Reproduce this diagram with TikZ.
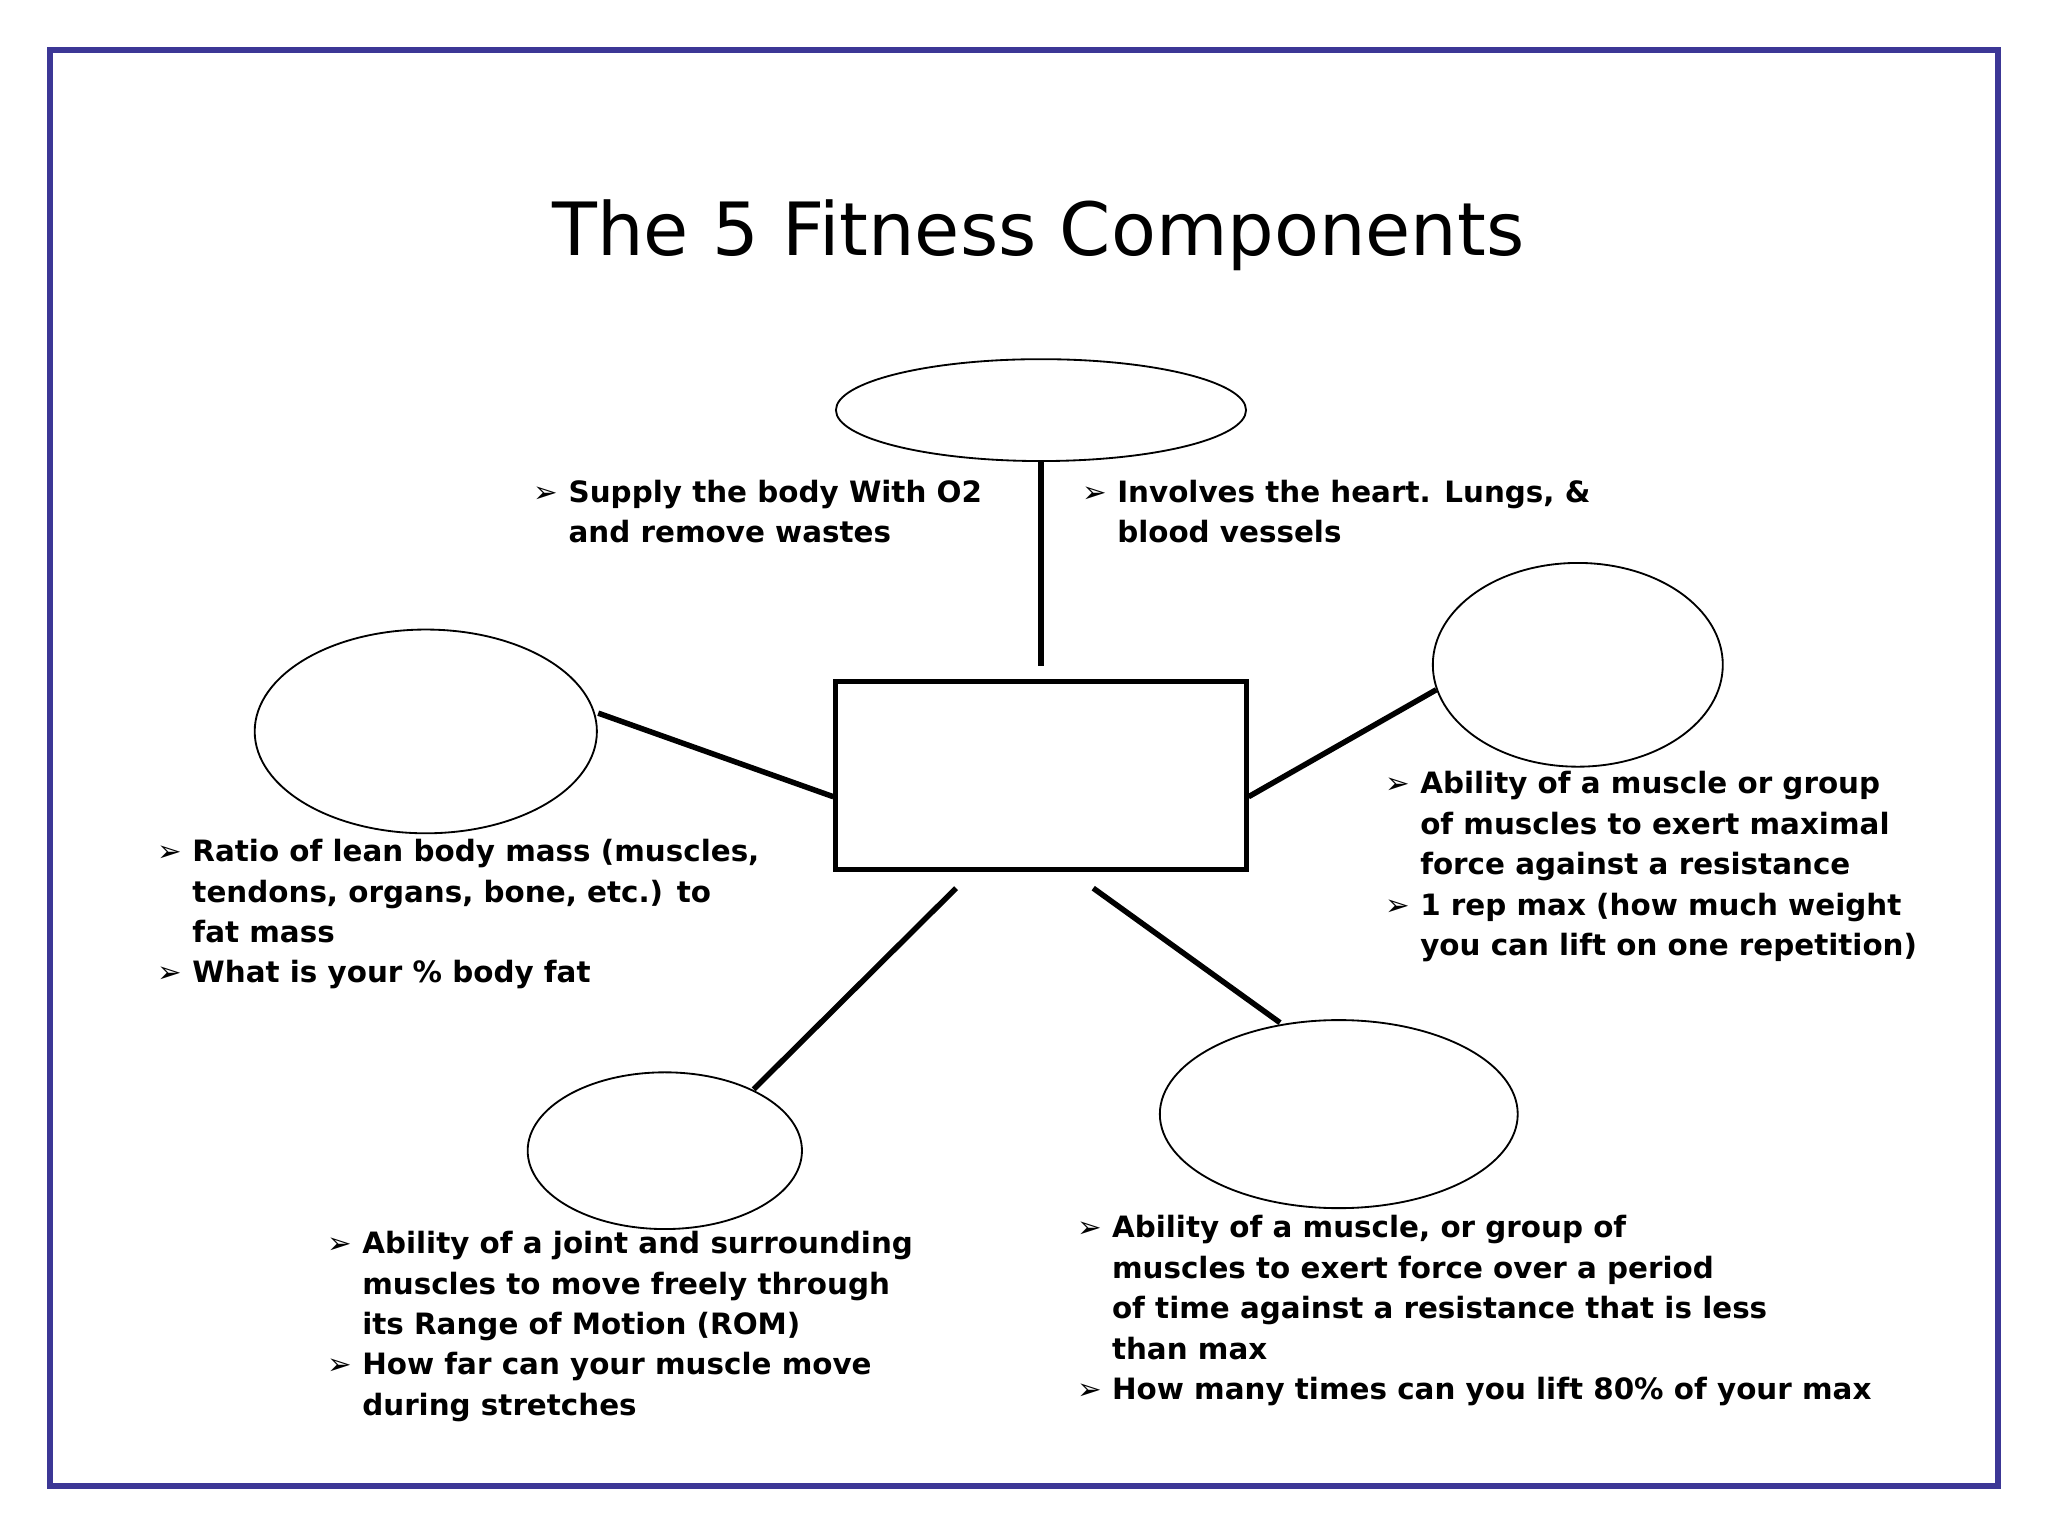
\documentclass[tikz,border=0pt]{standalone}
\usepackage{fontspec}
\setmainfont{DejaVu Sans}
\newfontfamily\arrowfont{DejaVu Sans}
\usetikzlibrary{shapes.geometric}
\definecolor{framecol}{RGB}{60,55,150}
\newcommand\bl{{\arrowfont\mdseries ➢}\ }
\newcommand\ind{\phantom{\bl}}
\tikzset{
  bubble/.style={ellipse, draw, thin, inner sep=0pt},
  spoke/.style={line width=1.2pt},
  note/.style={anchor=north west, inner sep=0pt, align=left,
    font=\fontsize{6.4pt}{8.8pt}\selectfont\bfseries}
}
\begin{document}
\begin{tikzpicture}
  \useasboundingbox (0,0) rectangle (15.68,-11.76);
  \draw[framecol, line width=1.3pt] (0.38,-0.38) rectangle (15.30,-11.38);

  \node[font=\fontsize{16pt}{19pt}\selectfont] (title) at (7.95,-1.8) {The 5 Fitness Components};

  % centre box and the five bubbles
  \node[draw, line width=1.1pt, minimum width=3.14cm, minimum height=1.44cm] (hub) at (7.97,-5.94) {};
  \node[bubble, minimum width=3.14cm, minimum height=0.78cm] (cardio) at (7.97,-3.14) {};
  \node[bubble, minimum width=2.62cm, minimum height=1.56cm] (body) at (3.26,-5.60) {};
  \node[bubble, minimum width=2.22cm, minimum height=1.56cm] (strength) at (12.08,-5.09) {};
  \node[bubble, minimum width=2.10cm, minimum height=1.20cm] (flex) at (5.09,-8.81) {};
  \node[bubble, minimum width=2.74cm, minimum height=1.44cm] (endur) at (10.25,-8.53) {};

  \coordinate (c1) at (7.97,-5.10);
  \coordinate (c2) at (7.32,-6.80);
  \coordinate (c3) at (8.37,-6.80);
  \coordinate (b1) at (4.58,-5.46);
  \coordinate (b2) at (9.80,-7.83);
  \coordinate (b3) at (5.77,-8.34);
  \draw[spoke] (cardio.south) -- (c1);
  \draw[spoke] (b1) -- (hub.west|-0,-6.10);
  \draw[spoke] (hub.east|-0,-6.10) -- (strength.190);
  \draw[spoke] (c2) -- (b3);
  \draw[spoke] (c3) -- (b2);

  % notes
  \node[note] (n1) at (4.08,-3.67) {\bl Supply the body With O2\\\ind and remove wastes};
  \node[note] (n2) at (8.28,-3.67) {\bl Involves the heart. Lungs, \&\\\ind blood vessels};
  \node[note] (n3) at (1.20,-6.42) {\bl Ratio of lean body mass (muscles,\\\ind tendons, organs, bone, etc.) to\\\ind fat mass\\\bl What is your \% body fat};
  \node[note] (n4) at (10.60,-5.90) {\bl Ability of a muscle or group\\\ind of muscles to exert maximal\\\ind force against a resistance\\\bl 1 rep max (how much weight\\\ind you can lift on one repetition)};
  \node[note] (n5) at (2.50,-9.42) {\bl Ability of a joint and surrounding\\\ind muscles to move freely through\\\ind its Range of Motion (ROM)\\\bl How far can your muscle move\\\ind during stretches};
  \node[note] (n6) at (8.24,-9.30) {\bl Ability of a muscle, or group of\\\ind muscles to exert force over a period\\\ind of time against a resistance that is less\\\ind than max\\\bl How many times can you lift 80\% of your max};
\end{tikzpicture}
\end{document}
